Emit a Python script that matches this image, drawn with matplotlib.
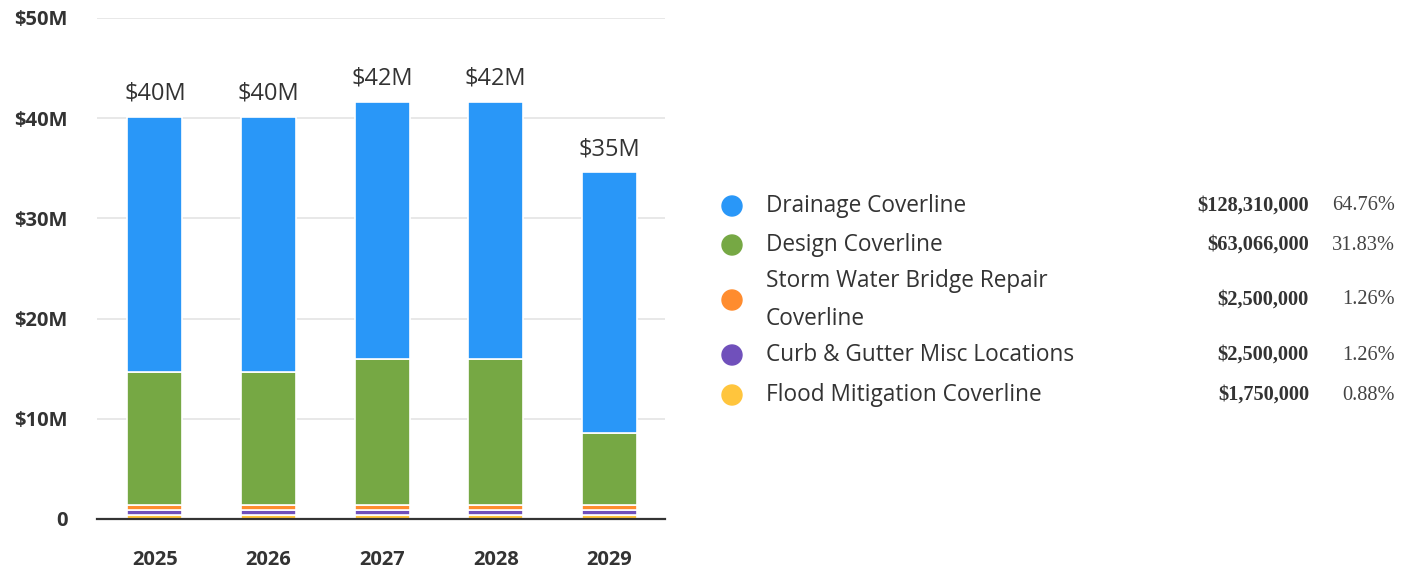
import matplotlib
matplotlib.use("Agg")
import matplotlib.pyplot as plt
import numpy as np
from matplotlib.patches import Circle

years = ["2025", "2026", "2027", "2028", "2029"]

# annual amounts, $M (stack order bottom -> top)
flood = [0.35, 0.35, 0.35, 0.35, 0.35]
curb = [0.5, 0.5, 0.5, 0.5, 0.5]
storm = [0.5, 0.5, 0.5, 0.5, 0.5]
design = [13.3, 13.3, 14.6, 14.6, 7.266]
drainage = [25.48, 25.48, 25.68, 25.68, 25.99]

legend_names = ["Drainage Coverline", "Design Coverline",
                "Storm Water Bridge Repair\nCoverline",
                "Curb & Gutter Misc Locations", "Flood Mitigation Coverline"]
legend_totals = ["$128,310,000", "$63,066,000", "$2,500,000", "$2,500,000", "$1,750,000"]
legend_pcts = ["64.76%", "31.83%", "1.26%", "1.26%", "0.88%"]

yticks = [0, 10, 20, 30, 40, 50]
ytick_labels = ["0", "$10M", "$20M", "$30M", "$40M", "$50M"]

c_blue = "#2997F8"
c_green = "#76A844"
c_orange = "#FF8C2E"
c_purple = "#7050BB"
c_yellow = "#FFC53D"
txt = "#333333"

plt.rcParams["font.family"] = ["Open Sans", "DejaVu Sans"]

W, H = 1413, 572
fig = plt.figure(figsize=(W / 100, H / 100), dpi=100)
ax = fig.add_axes([97 / W, 1 - 519 / H, (665 - 97) / W, (519 - 18) / H])

x = np.arange(len(years))
series = [(flood, c_yellow), (curb, c_purple), (storm, c_orange),
          (design, c_green), (drainage, c_blue)]
bottom = np.zeros(len(years))
for vals, col in series:
    ax.bar(x, vals, 0.485, bottom=bottom, color=col, edgecolor="white",
           linewidth=1.2, zorder=3)
    bottom += np.array(vals)

for xi, tot in zip(x, bottom):
    ax.text(xi, tot + 1.1, f"${tot:.0f}M", ha="center", va="bottom",
            fontsize=17, color=txt)

ax.set_xlim(-0.51, 4.49)
ax.set_ylim(0, 50)
ax.set_yticks(yticks)
ax.set_yticklabels(ytick_labels, fontsize=14.5, fontweight="bold", color=txt)
ax.set_xticks(x)
ax.set_xticklabels(years, fontsize=14.5, fontweight="bold", color=txt)
ax.tick_params(axis="y", length=0, pad=21)
ax.tick_params(axis="x", length=0, pad=22)
ax.grid(axis="y", color="#e6e6e6", linewidth=1.3, zorder=0)
for s in ["top", "right", "left"]:
    ax.spines[s].set_visible(False)
ax.spines["bottom"].set_color("#333333")
ax.spines["bottom"].set_linewidth(1.6)
ax.spines["bottom"].set_zorder(4)

# legend table drawn in pixel coordinates
lg = fig.add_axes([0, 0, 1, 1])
lg.set_xlim(0, W)
lg.set_ylim(H, 0)
lg.axis("off")
rows_y = [206, 245, 300, 355, 395]
colors = [c_blue, c_green, c_orange, c_purple, c_yellow]
for yy, name, tot, pct, col in zip(rows_y, legend_names, legend_totals, legend_pcts, colors):
    lg.add_patch(Circle((732, yy), 10, color=col))
    lg.text(766, yy, name, ha="left", va="center", fontsize=16.3, color=txt,
            linespacing=1.8)
    lg.text(1309, yy, tot, ha="right", va="center", fontsize=14.7, fontweight="bold",
            family="Liberation Serif", color=txt)
    lg.text(1395, yy, pct, ha="right", va="center", fontsize=14.7,
            family="Liberation Serif", color="#444444")

fig.savefig("out.png", dpi=100)
